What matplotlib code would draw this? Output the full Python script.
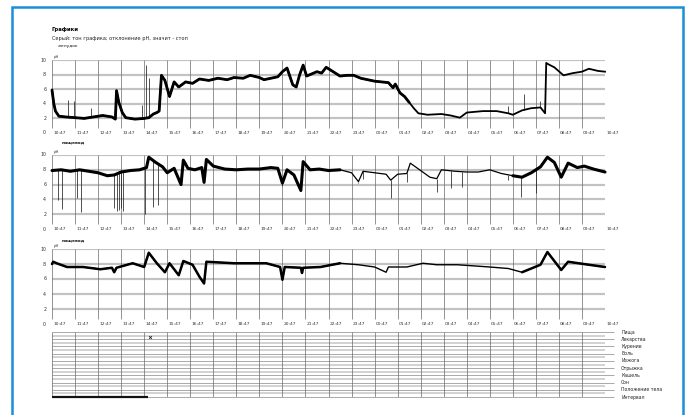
import numpy as np
import matplotlib
matplotlib.use("Agg")
import matplotlib.pyplot as plt
from matplotlib.patches import Rectangle

plt.rcParams['font.family'] = ['DejaVu Sans']

# ---------------- data ----------------
hour_ticks = list(range(25))
hour_labels = ["10:47", "11:47", "12:47", "13:47", "14:47", "15:47", "16:47", "17:47",
               "18:47", "19:47", "20:47", "21:47", "22:47", "23:47", "00:47", "01:47",
               "02:47", "03:47", "04:47", "05:47", "06:47", "07:47", "08:47", "09:47", "10:47"]
ph_ticks = [0, 2, 4, 6, 8, 10]

title = "Графики"
subtitle = "Серый: тон графика; отклонение рН, значит - стоп"
panel_names = ["желудок", "пищевод", "пищевод"]

# panel 1 (stomach)
p1_t = [0.0, 0.08, 0.15, 0.3, 0.6, 1.0, 1.4, 1.8, 2.2, 2.6, 2.75, 2.8, 2.9, 3.05, 3.2, 3.6,
        4.0, 4.2, 4.4, 4.55, 4.65, 4.75, 4.9, 5.1, 5.3, 5.5, 5.8, 6.1, 6.4, 6.8, 7.2, 7.6,
        7.9, 8.3, 8.6, 9.0, 9.2, 9.5, 9.8, 10.0, 10.2, 10.45, 10.6, 10.75, 10.9, 11.05, 11.2,
        11.5, 11.7, 11.9, 12.2, 12.5, 12.8, 13.1, 13.4, 13.7, 14.0, 14.3, 14.6, 14.8, 14.9,
        15.1, 15.3, 15.5, 15.7, 15.9, 16.3, 16.9, 17.3, 17.7, 18.0, 18.7, 19.3, 19.8, 20.0,
        20.4, 20.8, 21.2, 21.4, 21.45, 21.55, 21.8, 22.2, 22.6, 23.0, 23.3, 23.7, 24.0]
p1_v = [5.9, 4.0, 3.0, 2.3, 2.2, 2.1, 2.0, 2.2, 2.4, 2.2, 1.9, 5.8, 4.2, 2.8, 2.1, 1.9,
        2.0, 2.1, 2.6, 2.8, 3.0, 7.9, 7.2, 5.0, 7.0, 6.3, 7.0, 6.8, 7.4, 7.2, 7.5, 7.3,
        7.6, 7.5, 7.9, 7.6, 7.3, 7.5, 7.7, 8.4, 8.9, 6.6, 6.3, 8.0, 9.3, 7.8, 8.0,
        8.4, 8.2, 9.0, 8.4, 7.8, 7.9, 7.9, 7.5, 7.3, 7.1, 7.0, 6.9, 6.2, 6.7,
        5.5, 5.0, 4.2, 3.4, 2.7, 2.5, 2.6, 2.4, 2.1, 2.8, 3.0, 3.0, 2.7, 2.5,
        3.1, 3.4, 3.5, 2.7, 9.6, 9.4, 9.0, 7.9, 8.2, 8.4, 8.8, 8.5, 8.4]
p1_spike_t = [0.7, 0.95, 1.7, 3.9, 4.1, 4.2, 19.8, 20.5, 21.2]
p1_spike_v = [4.5, 4.4, 3.4, 3.8, 9.3, 7.6, 3.7, 5.4, 4.4]

# panel 2 (esophagus)
p2_t = [0.0, 0.4, 0.8, 1.2, 1.6, 2.0, 2.4, 2.7, 3.0, 3.4, 3.8, 4.1, 4.2, 4.5, 4.8, 5.0,
        5.3, 5.6, 5.7, 5.9, 6.2, 6.5, 6.6, 6.7, 7.0, 7.5, 8.0, 8.5, 9.0, 9.5, 9.8, 10.0,
        10.2, 10.5, 10.8, 10.9, 11.2, 11.6, 12.0, 12.5, 13.0, 13.3, 13.5, 14.0, 14.5, 14.7,
        15.0, 15.4, 15.55, 16.0, 16.4, 16.7, 16.9, 17.5, 18.0, 18.5, 19.0, 19.5, 20.0, 20.4,
        20.8, 21.2, 21.5, 21.8, 22.1, 22.4, 22.8, 23.1, 23.5, 24.0]
p2_v = [7.9, 8.0, 7.8, 8.0, 7.8, 7.6, 7.2, 7.3, 7.7, 7.9, 8.0, 8.3, 9.7, 9.0, 8.4, 7.6,
        8.2, 6.0, 9.3, 8.2, 8.0, 8.3, 6.3, 9.4, 8.5, 8.1, 8.0, 8.1, 8.1, 8.3, 8.2, 6.2,
        8.0, 7.3, 5.2, 9.1, 8.0, 8.1, 7.9, 8.0, 7.6, 6.4, 7.8, 7.6, 7.4, 6.6,
        7.4, 7.5, 8.9, 7.9, 7.0, 6.8, 8.0, 7.8, 7.7, 7.7, 8.0, 7.5, 7.2, 7.0,
        7.6, 8.4, 9.7, 9.0, 7.0, 8.9, 8.3, 8.5, 8.1, 7.7]
p2_spike_t = [0.27, 0.45, 1.1, 1.26, 2.7, 2.8, 2.9, 3.0, 3.1, 4.04, 4.4, 4.6, 10.0, 13.3,
              13.5, 14.7, 15.4, 16.7, 17.3, 17.8, 19.8, 20.35, 21.0]
p2_spike_v = [3.9, 2.7, 4.2, 2.3, 2.9, 2.5, 2.6, 2.8, 2.5, 2.0, 3.0, 3.2, 5.8, 6.2,
              6.8, 4.2, 6.3, 5.0, 5.5, 5.7, 6.6, 4.3, 4.9]

# panel 3 (esophagus)
p3_t = [0.0, 0.05, 0.2, 0.65, 1.35, 2.1, 2.6, 2.7, 2.8, 3.5, 4.0, 4.2, 4.55, 4.9, 5.1,
        5.5, 5.7, 6.1, 6.4, 6.6, 6.7, 7.9, 9.3, 9.9, 10.0, 10.1, 10.8, 10.85, 10.9, 11.65,
        12.5, 13.3, 14.0, 14.5, 14.6, 15.4, 16.1, 16.7, 17.6, 19.0, 19.8, 20.4, 21.2, 21.5,
        22.1, 22.4, 23.3, 24.0]
p3_v = [8.0, 8.3, 8.1, 7.6, 7.6, 7.3, 7.5, 6.9, 7.5, 8.1, 7.6, 9.5, 8.1, 6.9, 8.1,
        6.5, 8.4, 7.9, 6.3, 5.4, 8.3, 8.1, 8.1, 7.6, 5.9, 7.6, 7.5, 6.8, 7.5, 7.6,
        8.1, 7.9, 7.6, 6.9, 7.6, 7.6, 8.1, 7.9, 7.9, 7.6, 7.4, 6.9, 7.9, 9.6,
        7.2, 8.3, 7.9, 7.6]

event_labels = ["Пища", "Лекарства", "Курение", "Боль", "Изжога", "Отрыжка", "Кашель",
                "Сон", "Положение тела", "Интервал"]
event_bar_start = [0.0]
event_bar_end = [4.15]
event_bar_row = [9]
event_mark_t = [4.25]
event_mark_row = [1]

# ---------------- layout helpers ----------------
W, H = 690, 415
def fx(px): return px / W
def fy(py): return 1 - py / H

fig = plt.figure(figsize=(6.9, 4.15), dpi=100)
fig.patch.set_facecolor("white")

# blue frame
fig.patches.append(Rectangle((fx(12), fy(418)), fx(683) - fx(12), (418 - 7) / H,
                             transform=fig.transFigure, fill=False,
                             edgecolor="#1b8fd8", linewidth=1.8))

fig.text(fx(52), fy(30), title, fontsize=3.8, fontweight="bold", va="center", ha="left")
fig.text(fx(52), fy(38), subtitle, fontsize=3.6, va="center", ha="left", color="#222")

X0, X1 = 52, 605
# (top px, bottom px, t, v, spikes t, spikes v, name y px, thick ranges, thick lw, thin lw)
panels = [(60, 133, p1_t, p1_v, p1_spike_t, p1_spike_v, 46, [(0, 15.6)], 2.0, 1.3),
          (155, 229, p2_t, p2_v, p2_spike_t, p2_spike_v, 143, [(0, 12.6), (20.0, 24)], 2.2, 0.9),
          (249, 324, p3_t, p3_v, None, None, 240, [(0, 12.6), (20.0, 24)], 1.8, 1.0)]

for i, (ytop, ybot, tt, vv, st, sv, yname, thick, lw_thick, lw_thin) in enumerate(panels):
    ax = fig.add_axes([fx(X0), fy(ybot), fx(X1) - fx(X0), (ybot - ytop) / H])
    ax.set_xlim(0, 24)
    ax.set_ylim(0, 10)
    ax.axis("off")
    ax.hlines([2, 4, 6, 8, 10], 0, 24, colors="#cccccc", linewidth=1.6, zorder=1)
    ax.hlines([2, 4, 6, 8, 10], 0, 24, colors="#a0a0a0", linewidth=0.3, zorder=1)
    ax.vlines(hour_ticks[:-1], 0.7, 10, colors="#6a6a6a", linewidth=0.5, zorder=1)
    ax.vlines([24], 0.5, 0.9, colors="#333", linewidth=0.5)
    ta = np.array(tt)
    va_ = np.array(vv)
    ax.plot(ta, va_, color="black", linewidth=lw_thin, zorder=3, clip_on=False,
            solid_joinstyle="round")
    for a, b in thick:
        m = (ta >= a) & (ta <= b)
        ax.plot(ta[m], va_[m], color="black", linewidth=lw_thick, zorder=3, clip_on=False,
                solid_joinstyle="round", solid_capstyle="round")
    if st is not None:
        base = np.interp(st, tt, vv)
        ax.vlines(st, sv, base, colors="#222", linewidth=0.55, zorder=2)
    for h, lab in zip(hour_ticks, hour_labels):
        ax.text(h + 0.05, 0, lab, fontsize=3.2, ha="left", va="center", color="#333")
    for p in ph_ticks:
        ax.text(-0.25, p, str(p), fontsize=3.4, ha="right", va="center", color="#333")
    ax.text(0.05, 10.2, "pH", fontsize=2.8, ha="left", va="bottom", color="#333")
    fig.text(fx(58 if i == 0 else 62), fy(yname), panel_names[i], fontsize=3.2,
             fontweight="bold" if i else "normal", ha="left", va="center", color="#111")

# event grid
ytop, ybot = 332, 397
ax = fig.add_axes([fx(X0), fy(ybot), fx(X1) - fx(X0), (ybot - ytop) / H])
ax.set_xlim(0, 24)
ax.set_ylim(0, 9)
ax.axis("off")
rows = np.arange(len(event_labels))
ypos = 9 - rows
ax.hlines(ypos[:-1] - 0.5, 0, 24, colors="#d2d2d2", linewidth=1.4)
ax.hlines(ypos, 0, 24.4, colors="#7a7a7a", linewidth=0.45, clip_on=False)
ax.vlines(hour_ticks, 0, 9, colors="#6a6a6a", linewidth=0.5)
for lab, y in zip(event_labels, ypos):
    ax.text(24.7, y, lab, fontsize=3.3, ha="left", va="center", color="#222", clip_on=False)
for s, e, r in zip(event_bar_start, event_bar_end, event_bar_row):
    ax.plot([s, e], [9 - r, 9 - r], color="#111", linewidth=1.6, solid_capstyle="butt",
            clip_on=False)
for t, r in zip(event_mark_t, event_mark_row):
    ax.plot([t], [9 - r + 0.3], marker="x", markersize=2, color="#222", markeredgewidth=0.6)

fig.savefig("out.png", dpi=100, facecolor="white")
